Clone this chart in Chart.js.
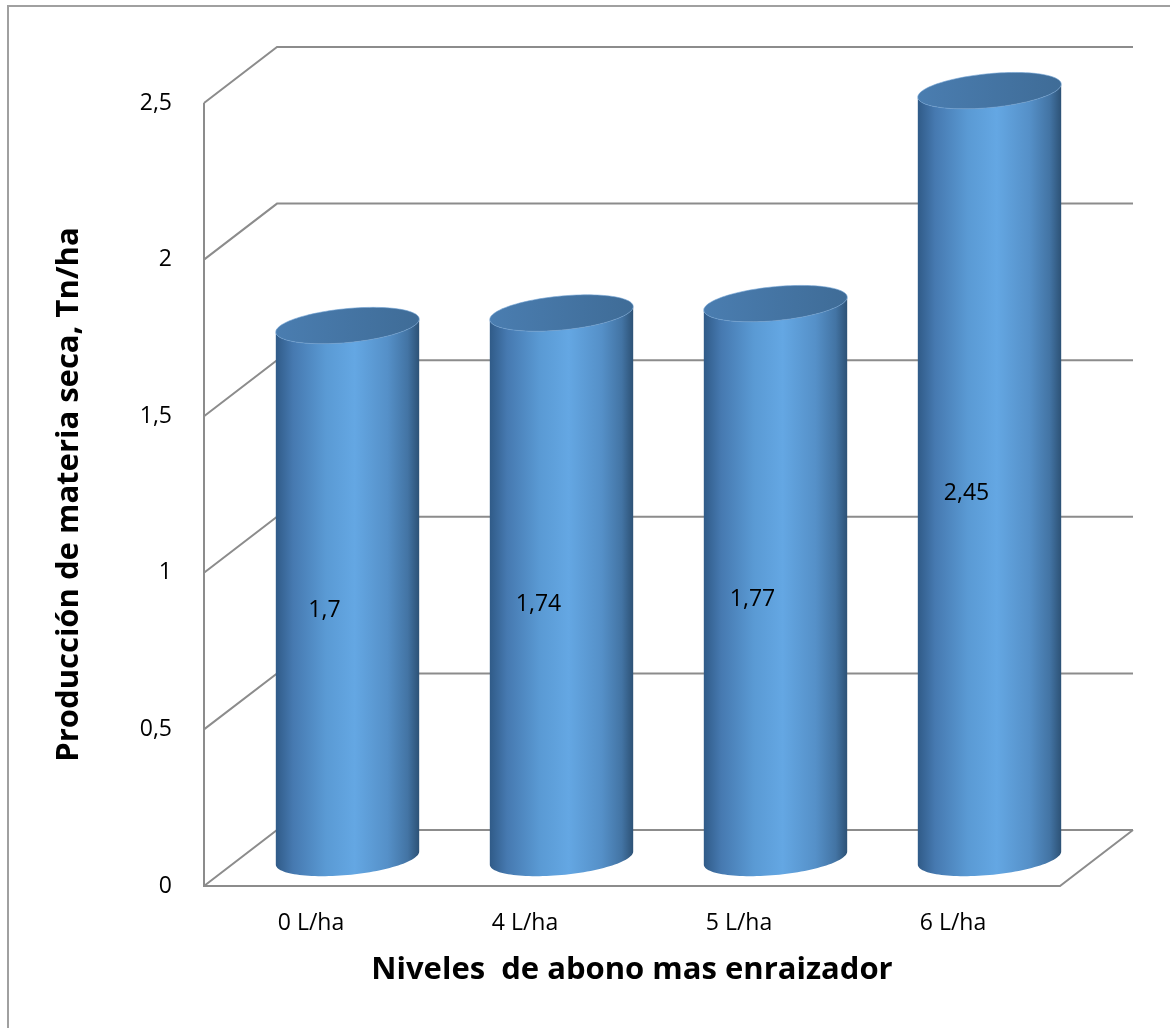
<!DOCTYPE html>
<html>
<head>
<meta charset="utf-8">
<script src="https://cdn.jsdelivr.net/npm/chart.js@4.4.1/dist/chart.umd.min.js"></script>
<style>
  html, body { margin: 0; padding: 0; background: #fff; }
  canvas { display: block; }
</style>
</head>
<body>
<canvas id="cylChart" width="1170" height="1028"></canvas>
<script>
// datos
const niveles = ["0 L/ha", "4 L/ha", "5 L/ha", "6 L/ha"];
const produccion = [1.7, 1.74, 1.77, 2.45];
const yTicks = [0, 0.5, 1, 1.5, 2, 2.5];

const depth = { dx: 73, dy: -56 };   // desplazamiento pared trasera
const fmt = v => String(v).replace('.', ',');

const cylinder3d = {
    id: 'cylinder3d',
    beforeDraw(chart) {
        const ctx = chart.ctx;
        ctx.save();
        ctx.strokeStyle = '#a0a0a0';
        ctx.lineWidth = 2;
        ctx.beginPath();
        ctx.moveTo(8, 1028);
        ctx.lineTo(8, 6);
        ctx.lineTo(1170, 6);
        ctx.stroke();
        ctx.restore();
    },
    beforeDatasetsDraw(chart) {
        const { ctx, chartArea: a, scales: { y } } = chart;
        ctx.save();
        ctx.strokeStyle = '#8c8c8c';
        ctx.lineWidth = 2;
        yTicks.forEach(v => {
            const py = y.getPixelForValue(v);
            ctx.beginPath();
            ctx.moveTo(a.left, py);
            ctx.lineTo(a.left + depth.dx, py + depth.dy);
            ctx.lineTo(a.right + depth.dx, py + depth.dy);
            ctx.stroke();
        });
        ctx.beginPath();
        ctx.moveTo(a.left, a.top);
        ctx.lineTo(a.left, a.bottom);
        ctx.lineTo(a.right, a.bottom);
        ctx.lineTo(a.right + depth.dx, a.bottom + depth.dy);
        ctx.stroke();
        ctx.restore();
    },
    afterDatasetsDraw(chart) {
        const ctx = chart.ctx;
        const meta = chart.getDatasetMeta(0);
        const b = 17, c = -6.5;
        const pt = (cx, cy, r, t) => [cx + r * Math.cos(t), cy + b * Math.sin(t) + c * Math.cos(t)];
        meta.data.forEach((bar, i) => {
            const cx = bar.x + depth.dx / 2;
            const top = bar.y + depth.dy / 2;
            const base = bar.base + depth.dy / 2;
            const r = bar.width / 2;
            const N = 60;

            // cuerpo
            const g = ctx.createLinearGradient(cx - r, 0, cx + r, 0);
            g.addColorStop(0, '#305b88');
            g.addColorStop(0.12, '#4679b0');
            g.addColorStop(0.35, '#5a9ad4');
            g.addColorStop(0.55, '#64a7e3');
            g.addColorStop(0.78, '#5590c8');
            g.addColorStop(0.92, '#4374a4');
            g.addColorStop(1, '#2d5276');
            ctx.save();
            ctx.beginPath();
            ctx.moveTo(cx - r, top - c);
            ctx.lineTo(cx - r, base - c);
            for (let k = 0; k <= N; k++) {
                const p = pt(cx, base, r, Math.PI - Math.PI * k / N);
                ctx.lineTo(p[0], p[1]);
            }
            ctx.lineTo(cx + r, top + c);
            for (let k = 0; k <= N; k++) {
                const p = pt(cx, top, r, Math.PI * k / N);
                ctx.lineTo(p[0], p[1]);
            }
            ctx.closePath();
            ctx.fillStyle = g;
            ctx.fill();

            // tapa
            const gt = ctx.createLinearGradient(cx - r, 0, cx + r, 0);
            gt.addColorStop(0, '#4a7db0');
            gt.addColorStop(1, '#3f6c97');
            ctx.beginPath();
            for (let k = 0; k <= 2 * N; k++) {
                const p = pt(cx, top, r, Math.PI * k / N);
                if (k === 0) ctx.moveTo(p[0], p[1]); else ctx.lineTo(p[0], p[1]);
            }
            ctx.closePath();
            ctx.fillStyle = gt;
            ctx.fill();
            ctx.strokeStyle = 'rgba(110,160,210,0.6)';
            ctx.lineWidth = 1;
            ctx.stroke();

            // etiqueta
            ctx.fillStyle = '#000';
            ctx.font = '23px "Open Sans"';
            ctx.textAlign = 'center';
            ctx.textBaseline = 'middle';
            ctx.fillText(fmt(produccion[i]), cx - 23, (top + base) / 2 + 19);
            ctx.restore();
        });
    }
};

new Chart(document.getElementById('cylChart').getContext('2d'), {
    type: 'bar',
    data: {
        labels: niveles,
        datasets: [{
            data: produccion,
            backgroundColor: 'rgba(0,0,0,0)',
            borderWidth: 0,
            barPercentage: 0.67,
            categoryPercentage: 1
        }]
    },
    options: {
        responsive: false,
        animation: false,
        devicePixelRatio: 1,
        layout: { padding: { top: 103, right: 110, left: 0, bottom: 0 } },
        plugins: {
            legend: { display: false },
            tooltip: { enabled: false }
        },
        scales: {
            x: {
                grid: { display: false },
                border: { display: false },
                ticks: {
                    color: '#000',
                    font: { family: 'Open Sans', size: 23 },
                    padding: 16,
                    maxRotation: 0
                },
                title: {
                    display: true,
                    text: 'Niveles  de abono mas enraizador',
                    color: '#000',
                    font: { family: 'Open Sans', size: 31, weight: 'bold' },
                    padding: { top: 0, bottom: 39 }
                },
                afterFit(scale) { scale.height = 142; }
            },
            y: {
                min: 0,
                max: 2.5,
                grid: { display: false },
                border: { display: false },
                ticks: {
                    stepSize: 0.5,
                    color: '#000',
                    font: { family: 'Open Sans', size: 23 },
                    padding: 24,
                    callback: v => fmt(v)
                },
                title: {
                    display: true,
                    text: 'Producción de materia seca, Tn/ha',
                    color: '#000',
                    font: { family: 'Open Sans', size: 31, weight: 'bold' },
                    padding: { top: 51, bottom: 0 }
                },
                afterFit(scale) { scale.width = 204; }
            }
        }
    },
    plugins: [cylinder3d]
});
</script>
</body>
</html>
